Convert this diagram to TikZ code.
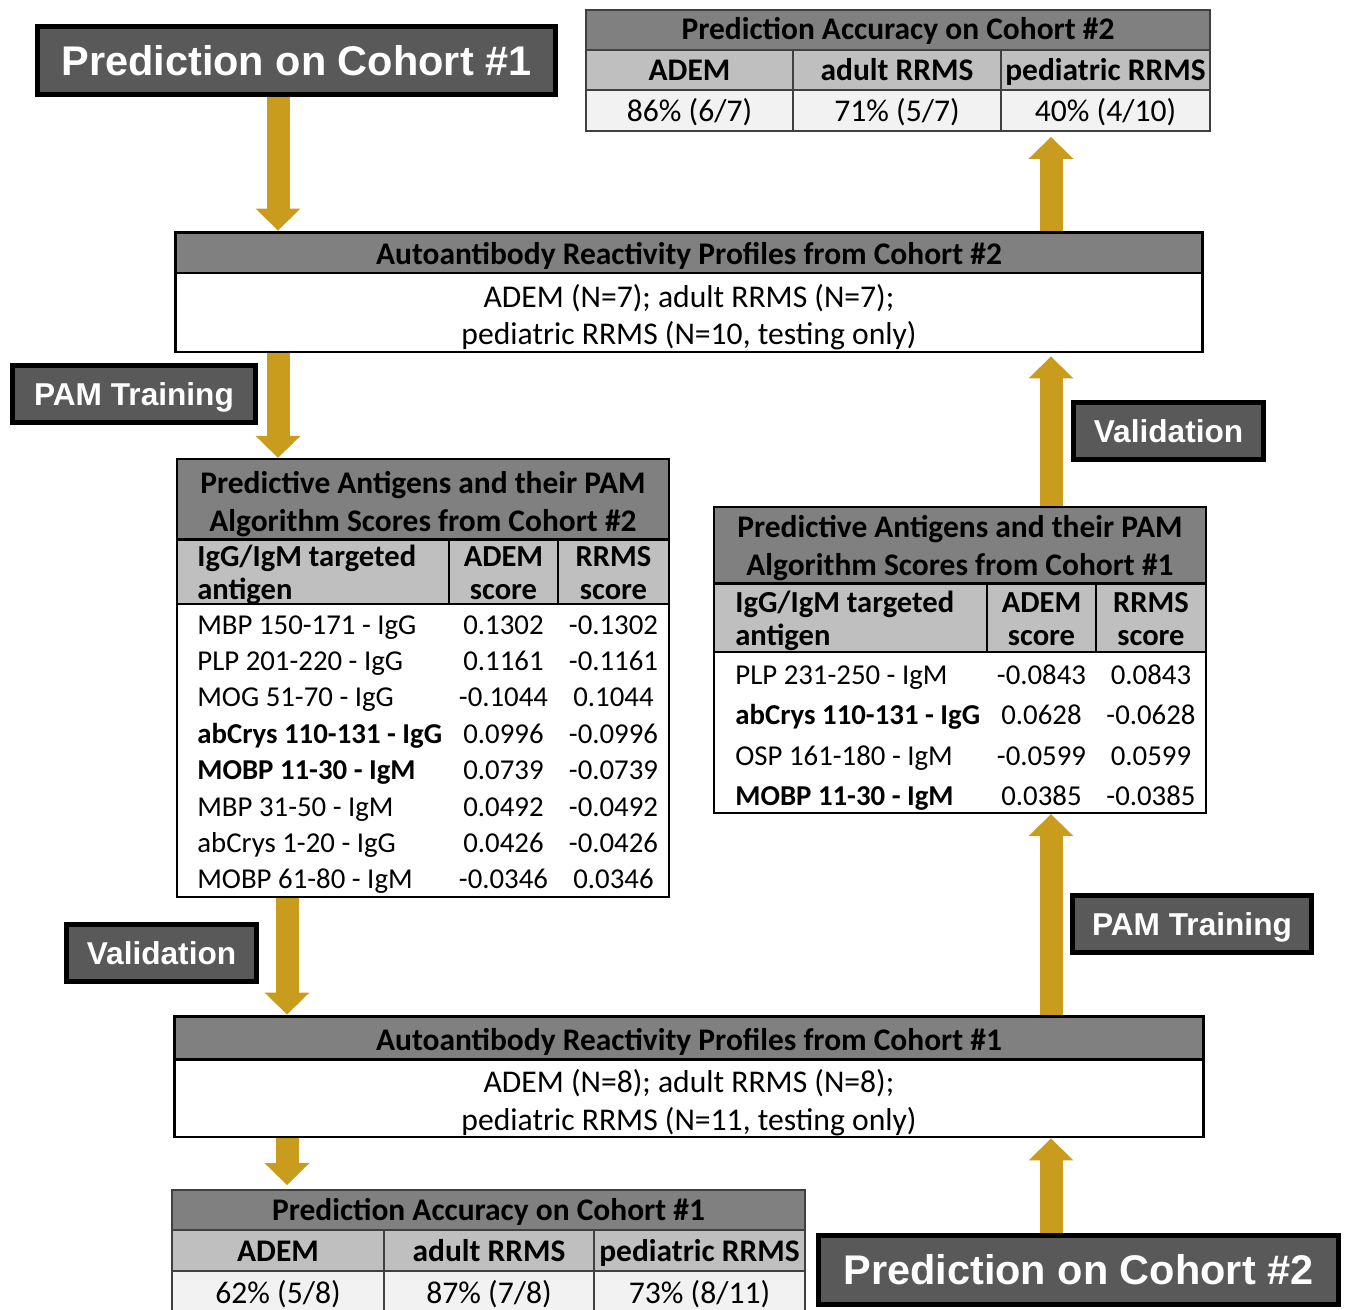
\documentclass[tikz,border=0pt]{standalone}
\usepackage{fontspec}
\setmainfont{Carlito}
\newfontfamily\labelfont{Liberation Sans}
\usetikzlibrary{arrows.meta, positioning}
\definecolor{arrowgold}{RGB}{201,156,30}
\definecolor{boxdark}{RGB}{89,89,89}
\definecolor{titlegray}{RGB}{128,128,128}
\definecolor{headgray}{RGB}{191,191,191}
\definecolor{cellgray}{RGB}{242,242,242}
\definecolor{gridgray}{RGB}{64,64,64}

\begin{document}
\begin{tikzpicture}[x=0.02cm, y=-0.02cm, font=\fontsize{18}{21}\selectfont,
    lbl/.style={draw=black, line width=2.8pt, fill=boxdark, text=white, inner sep=0pt,
        font=\labelfont\bfseries\fontsize{18}{21}\selectfont, text height=12.9pt, text depth=0pt},
    biglbl/.style={lbl, font=\labelfont\bfseries\fontsize{23.6}{26}\selectfont, text height=16.9pt},
    txt/.style={inner sep=0pt, text height=11.4pt, text depth=0pt},
    hd/.style={txt, font=\bfseries\fontsize{17.9}{21}\selectfont, text height=11.3pt},
    colhd/.style={txt, font=\bfseries\fontsize{17.4}{21}\selectfont, text height=11pt},
    dat/.style={txt, font=\fontsize{16.4}{19}\selectfont, text height=10.4pt},
    tabline/.style={draw=gridgray, line width=1.1pt},
    flow/.style={draw=arrowgold, line width=0.46cm, -{Triangle[width=0.9cm, length=0.44cm, line width=0pt]}}]
    \useasboundingbox (0,0) rectangle (1346,1309);
    \clip (0,0) rectangle (1346,1309);
    \def\rowa{36.4}
    \def\rowb{40.5}
    % 暗色标签
    \node[biglbl, minimum width=10.36cm, minimum height=1.36cm] (pred1) at (296.5,60.5) {Prediction on Cohort \#1};
    \node[biglbl, minimum width=10.4cm, minimum height=1.38cm] (pred2) at (1078.5,1270) {Prediction on Cohort \#2};
    \node[lbl, minimum width=4.86cm, minimum height=1.14cm] (trainL) at (134,394) {PAM Training};
    \node[lbl, minimum width=4.78cm, minimum height=1.14cm] (trainR) at (1192,924) {PAM Training};
    \node[lbl, minimum width=3.8cm, minimum height=1.14cm] (validL) at (161.5,953) {Validation};
    \node[lbl, minimum width=3.8cm, minimum height=1.14cm] (validR) at (1168.5,431) {Validation};
    % 准确率 Cohort #2
    \fill[titlegray] (586,10) rectangle (1210,50);
    \fill[headgray] (586,50) rectangle (1210,90);
    \fill[cellgray] (586,90) rectangle (1210,131);
    \draw[tabline] (586,50) -- (1210,50) (586,90) -- (1210,90) (793,50) -- (793,131) (1001,50) -- (1001,131);
    \node[tabline, minimum width=12.48cm, minimum height=2.42cm, inner sep=0pt] (acc2) at (898,70.5) {};
    \node[hd] at (898,30) {Prediction Accuracy on Cohort \#2};
    \node[hd] at (689.5,71) {ADEM};
    \node[hd] at (897,71) {adult RRMS};
    \node[hd] at (1105.5,71) {pediatric RRMS};
    \node[txt] at (689.5,111) {86\% (6/7)};
    \node[txt] at (897,111) {71\% (5/7)};
    \node[txt] at (1105.5,111) {40\% (4/10)};
    % 准确率 Cohort #1
    \fill[titlegray] (172,1190) rectangle (805,1230);
    \fill[headgray] (172,1230) rectangle (805,1271);
    \fill[cellgray] (172,1271) rectangle (805,1312);
    \draw[tabline] (172,1230) -- (805,1230) (172,1271) -- (805,1271) (384,1230) -- (384,1312) (594,1230) -- (594,1312);
    \node[tabline, minimum width=12.66cm, minimum height=2.44cm, inner sep=0pt] (acc1) at (488.5,1251) {};
    \node[hd] at (488.5,1211) {Prediction Accuracy on Cohort \#1};
    \node[hd] at (278,1252) {ADEM};
    \node[hd] at (489,1252) {adult RRMS};
    \node[hd] at (699.5,1252) {pediatric RRMS};
    \node[txt] at (278,1293) {62\% (5/8)};
    \node[txt] at (489,1293) {87\% (7/8)};
    \node[txt] at (699.5,1293) {73\% (8/11)};
    % 抗体谱 Cohort #2
    \fill[titlegray] (175,232) rectangle (1203,273);
    \draw[line width=1.7pt] (175,273) -- (1203,273);
    \node[draw, line width=1.7pt, minimum width=20.56cm, minimum height=2.4cm, inner sep=0pt] (prof2) at (689,292) {};
    \node[hd] at (689,255) {Autoantibody Reactivity Profiles from Cohort \#2};
    \node[txt] at (689,297) {ADEM (N=7); adult RRMS (N=7);};
    \node[txt] at (689,334) {pediatric RRMS (N=10, testing only)};
    % 抗体谱 Cohort #1
    \fill[titlegray] (174,1016) rectangle (1204,1059);
    \draw[line width=1.7pt] (174,1059) -- (1204,1059);
    \node[draw, line width=1.7pt, minimum width=20.6cm, minimum height=2.42cm, inner sep=0pt] (prof1) at (689,1076.5) {};
    \node[hd] at (689,1041) {Autoantibody Reactivity Profiles from Cohort \#1};
    \node[txt] at (689,1082) {ADEM (N=8); adult RRMS (N=8);};
    \node[txt] at (689,1120) {pediatric RRMS (N=11, testing only)};
    % 抗原表 Cohort #2
    \fill[titlegray] (177,459) rectangle (669,539);
    \fill[headgray] (177,539) rectangle (669,604);
    \draw[line width=1.7pt] (177,539) -- (669,539);
    \draw[line width=1.1pt] (177,604) -- (669,604) (449,539) -- (449,604) (558,539) -- (558,604);
    \node[draw, line width=1.4pt, minimum width=9.84cm, minimum height=8.76cm, inner sep=0pt] (ant2) at (423,678) {};
    \node[hd] at (423,484) {Predictive Antigens and their PAM};
    \node[hd] at (423,522) {Algorithm Scores from Cohort \#2};
    \node[colhd, anchor=west] at (197,557) {IgG/IgM targeted};
    \node[colhd, anchor=west] at (197,590) {antigen};
    \node[colhd] at (503.5,557) {ADEM};
    \node[colhd] at (503.5,590) {score};
    \node[colhd] at (613.5,557) {RRMS};
    \node[colhd] at (613.5,590) {score};
    \foreach \ag/\sa/\sb [count=\i from 0] in {MBP 150-171 - IgG/0.1302/-0.1302, PLP 201-220 - IgG/0.1161/-0.1161,
        MOG 51-70 - IgG/-0.1044/0.1044, \textbf{abCrys 110-131 - IgG}/0.0996/-0.0996,
        \textbf{MOBP 11-30 - IgM}/0.0739/-0.0739, MBP 31-50 - IgM/0.0492/-0.0492,
        abCrys 1-20 - IgG/0.0426/-0.0426, MOBP 61-80 - IgM/-0.0346/0.0346} {
        \node[dat, anchor=west] at (197,{625+\rowa*\i}) {\ag};
        \node[dat] at (503.5,{625+\rowa*\i}) {\sa};
        \node[dat] at (613.5,{625+\rowa*\i}) {\sb};
    }
    % 抗原表 Cohort #1
    \fill[titlegray] (714,507) rectangle (1206,583);
    \fill[headgray] (714,583) rectangle (1206,652);
    \draw[line width=1.7pt] (714,583) -- (1206,583);
    \draw[line width=1.1pt] (714,652) -- (1206,652) (987,583) -- (987,652) (1096,583) -- (1096,652);
    \node[draw, line width=1.4pt, minimum width=9.84cm, minimum height=6.12cm, inner sep=0pt] (ant1) at (960,660) {};
    \node[hd] at (960,528) {Predictive Antigens and their PAM};
    \node[hd] at (960,566) {Algorithm Scores from Cohort \#1};
    \node[colhd, anchor=west] at (735,603) {IgG/IgM targeted};
    \node[colhd, anchor=west] at (735,636) {antigen};
    \node[colhd] at (1041.5,603) {ADEM};
    \node[colhd] at (1041.5,636) {score};
    \node[colhd] at (1151,603) {RRMS};
    \node[colhd] at (1151,636) {score};
    \foreach \ag/\sa/\sb [count=\i from 0] in {PLP 231-250 - IgM/-0.0843/0.0843, \textbf{abCrys 110-131 - IgG}/0.0628/-0.0628,
        OSP 161-180 - IgM/-0.0599/0.0599, \textbf{MOBP 11-30 - IgM}/0.0385/-0.0385} {
        \node[dat, anchor=west] at (735,{675+\rowb*\i}) {\ag};
        \node[dat] at (1041.5,{675+\rowb*\i}) {\sa};
        \node[dat] at (1151,{675+\rowb*\i}) {\sb};
    }
    % 箭头
    \coordinate (colA) at (278,0);
    \coordinate (colB) at (287,0);
    \coordinate (colC) at (1051,0);
    \draw[flow] (pred1.south -| colA) -- (prof2.north -| colA);
    \draw[flow] (prof2.south -| colA) -- (ant2.north -| colA);
    \draw[flow] (ant2.south -| colB) -- (prof1.north -| colB);
    \draw[flow, shorten >=0.08cm] (prof1.south -| colB) -- (acc1.north -| colB);
    \draw[flow] (pred2.north -| colC) -- (prof1.south -| colC);
    \draw[flow] (prof1.north -| colC) -- (ant1.south -| colC);
    \draw[flow, shorten >=0.06cm] (ant1.north -| colC) -- (prof2.south -| colC);
    \draw[flow, shorten >=0.1cm] (prof2.north -| colC) -- (acc2.south -| colC);
\end{tikzpicture}
\end{document}
